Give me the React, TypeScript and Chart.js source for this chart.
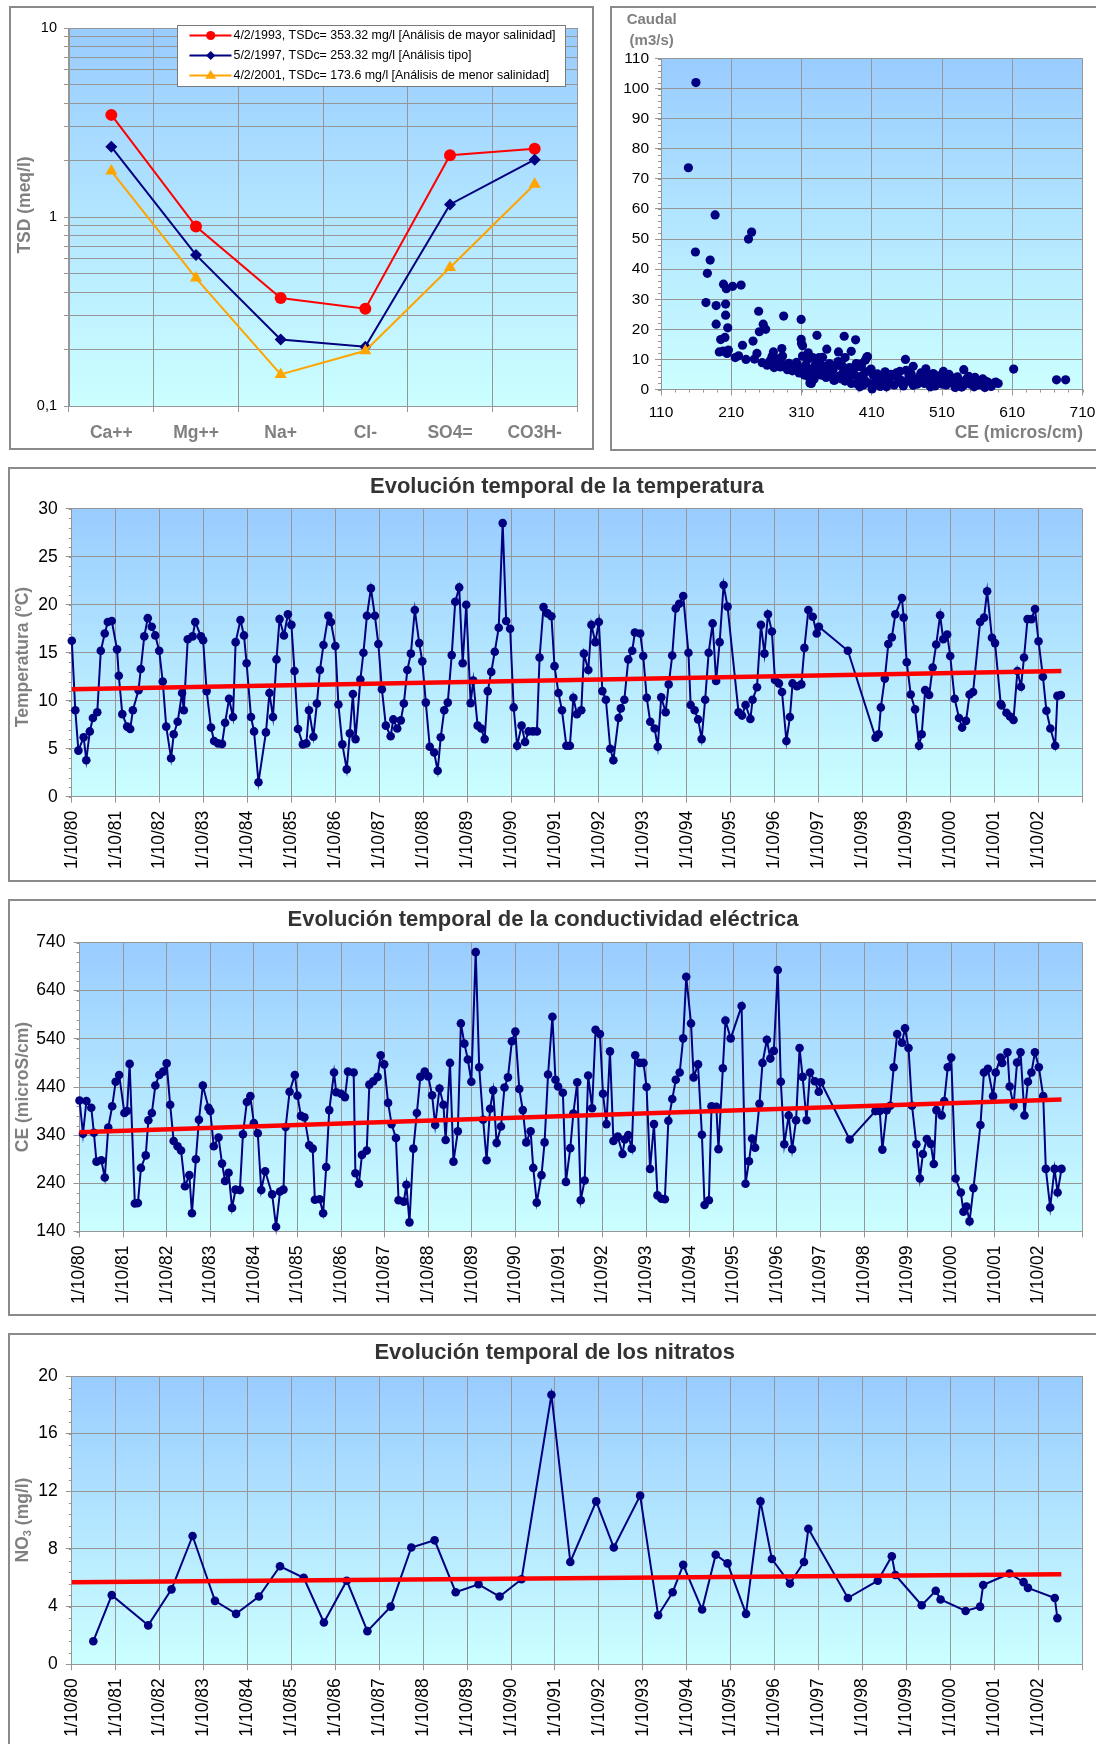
import React, { useEffect, useRef } from 'react';
import { Chart, registerables } from 'chart.js';

Chart.register(...registerables);

const FAMILY = '"Liberation Sans", Arial, Helvetica, sans-serif';
const GRID = '#969696';
const FRAME = '#8a8a8a';
const NAVY = '#000080';
const RED = '#FF0000';
const ORANGE = '#FFA500';
const AXIS_TITLE = '#808080';
const TITLE = '#333333';

/* ---------------- Panel 1: ionic composition (log) ---------------- */
const ions = ['Ca++', 'Mg++', 'Na+', 'Cl-', 'SO4=', 'CO3H-'];
const tsd1993 = [3.47, 0.89, 0.373, 0.327, 2.12, 2.3];
const tsd1997 = [2.35, 0.63, 0.225, 0.206, 1.165, 2.01];
const tsd2001 = [1.75, 0.475, 0.147, 0.196, 0.54, 1.49];
const legendTexts = [
  '4/2/1993, TSDc= 353.32 mg/l [Análisis de mayor salinidad]',
  '5/2/1997, TSDc= 253.32 mg/l [Análisis tipo]',
  '4/2/2001, TSDc= 173.6 mg/l [Análisis de menor salinidad]',
];
const logTicks = [0.1, 0.2, 0.3, 0.4, 0.5, 0.6, 0.7, 0.8, 0.9, 1, 2, 3, 4, 5, 6, 7, 8, 9, 10];

/* ---------------- Panel 2: Caudal vs CE ---------------- */
const caudalVsCe: [number, number][] = [
  [159.7, 102], [149, 73.7], [187, 58], [239, 52.3], [234.5, 50], [159, 45.7], [180, 43], [176, 38.6],
  [199, 35], [203, 33.5], [212, 34.3], [224, 34.7], [174, 28.9], [188.5, 27.9], [202, 28.4], [202, 24.7],
  [249, 26], [284.6, 24.4], [309.5, 23.3], [188.5, 21.7], [205, 20.5], [255.5, 21.7], [259, 20], [250, 19.2],
  [332, 18], [370.8, 17.7], [387, 16.5], [309.5, 16.7], [311.5, 14.5], [310, 15.3], [195, 16.6], [201, 17.3],
  [241, 16.1], [226, 14.7], [193, 12.5], [198.5, 12.8], [206, 13.1], [204, 12], [215.7, 10.6], [220.5, 11.2],
  [231, 10], [243, 10.1], [246.6, 12], [270, 12.5], [282, 13.6], [283, 11.1], [346, 13.4], [362.6, 12.5],
  [380.8, 12.7], [372, 10.6], [404, 10.9], [319.6, 12.2], [326, 10.6], [335, 10.6], [340, 10.7], [311.4, 11.1],
  [254, 8.9], [261, 8.1], [271, 7.3], [280, 7.5], [290, 6.6], [297, 6.2], [306.6, 5.5], [314, 4.8],
  [321, 4], [324, 2], [330.6, 5.9], [338, 4.8], [345, 4], [349.7, 6.4], [357, 3.1], [361.7, 4.2],
  [369, 5.5], [376, 3.7], [383, 4.8], [388, 2], [393.7, 4], [400, 3.1], [410.5, 0.2], [402, 5.9],
  [395, 7.5], [388, 8.6], [378.4, 7.3], [366.5, 7.8], [359, 8.1], [349.7, 8.6], [340, 7.8], [326, 7],
  [316, 8.1], [306.6, 7.3], [297, 8.1], [265, 9.5], [275, 9], [285, 8.3], [300, 7], [310, 6.5],
  [318, 5.8], [328, 3.5], [335, 6.8], [342, 5.5], [353, 5], [365, 4.5], [372, 2.8], [380, 6],
  [322, 2.2], [356, 3.1], [393, 0.9], [381, 2], [374, 5.3], [351, 8], [368, 7.9], [396, 8.6],
  [401, 9.8], [409, 6.8], [327, 5.3],
  [403, 10.8], [458, 10], [469, 7.7], [541, 6.6], [612, 6.8], [673, 3.2], [686, 3.2], [397.6, 4.7],
  [408, 6.4], [420, 3.1], [429, 5.9], [431, 0.9], [440, 4.7], [449.5, 2.5], [459, 6.4], [469, 1.4],
  [478, 4.2], [487, 6.9], [493.6, 0.9], [497.5, 5.3], [507, 3.6], [514, 4.7], [519, 3.1], [528.7, 0.7],
  [536, 2.2], [540.6, 1.4], [548, 4.4], [555.7, 0.9], [560, 3.1], [571, 2.9], [571, 0.7], [584, 2.1],
  [586.5, 2.5], [415, 4.5], [425, 2], [435, 3.5], [445, 5.5], [452, 3], [463, 4.5], [472, 2.8],
  [483, 3.5], [490, 5], [502, 2.5], [510, 1.8], [523, 4], [530, 3], [545, 3.5], [552, 2.8], [565, 2], [578, 1.5],
  [415, 2.5], [418, 5.2], [422, 1], [427, 4], [433, 2.2], [437, 5], [442, 1.5], [447, 3.8],
  [450, 6], [455, 1.2], [461, 2.8], [466, 5.2], [470, 3.5], [475, 1.8], [480, 5.5], [485, 2],
  [488, 4], [495, 3], [500, 1.2], [504, 4.5], [509, 2.8], [512, 6], [516, 1.5], [520, 5],
  [525, 2.2], [532, 4.2], [538, 0.8], [543, 3], [550, 1.8], [557, 4], [562, 1.5], [568, 3.5],
  [575, 2.5], [580, 1], [590, 2], [330, 8.5], [336, 9.5], [343, 7], [355, 6.5], [362, 9.3],
  [367, 3.5], [385, 6.8], [390, 4.3], [405, 2.2], [412, 4.8], [398, 1.5], [318, 9.8], [303, 9],
  [292, 8.7], [270, 9.8], [268, 11], [278, 10.3],
];
const scatterXTicks = [110, 210, 310, 410, 510, 610, 710];
const scatterYTicks = [0, 10, 20, 30, 40, 50, 60, 70, 80, 90, 100, 110];

/* ---------------- Time axis (years since 1/10/80) ---------------- */
const yearTickPositions = [0, 1, 2, 3, 4, 5, 6, 7, 8, 9, 10, 11, 12, 13, 14, 15, 16, 17, 18, 19, 20, 21, 22, 23];
const yearTickLabels = [
  '1/10/80', '1/10/81', '1/10/82', '1/10/83', '1/10/84', '1/10/85', '1/10/86', '1/10/87',
  '1/10/88', '1/10/89', '1/10/90', '1/10/91', '1/10/92', '1/10/93', '1/10/94', '1/10/95',
  '1/10/96', '1/10/97', '1/10/98', '1/10/99', '1/10/00', '1/10/01', '1/10/02', '',
];

/* ---------------- Temperature ---------------- */
const temperatureSeries: [number, number][] = [
  [0.00, 16.25], [0.08, 9.0], [0.15, 4.8], [0.27, 6.2], [0.33, 3.8], [0.41, 6.8], [0.48, 8.2], [0.58, 8.8],
  [0.66, 15.2], [0.75, 17.0], [0.82, 18.2], [0.91, 18.3], [1.03, 15.35], [1.07, 12.6], [1.15, 8.6], [1.26, 7.3],
  [1.33, 7.05], [1.39, 9.0], [1.52, 11.1], [1.57, 13.3], [1.65, 16.7], [1.73, 18.6], [1.82, 17.7], [1.90, 16.8],
  [1.99, 15.2], [2.07, 12.0], [2.15, 7.3], [2.26, 4.0], [2.32, 6.5], [2.41, 7.8], [2.51, 10.8], [2.55, 9.0],
  [2.64, 16.4], [2.75, 16.7], [2.81, 18.2], [2.94, 16.7], [2.99, 16.3], [3.07, 11.0], [3.17, 7.2], [3.24, 5.8],
  [3.33, 5.55], [3.42, 5.5], [3.49, 7.7], [3.58, 10.2], [3.67, 8.3], [3.73, 16.1], [3.84, 18.4], [3.92, 16.8],
  [3.98, 13.9], [4.08, 8.3], [4.15, 6.8], [4.25, 1.5], [4.42, 6.7], [4.50, 10.8], [4.58, 8.3], [4.66, 14.3],
  [4.73, 18.5], [4.83, 16.8], [4.92, 19.0], [5.00, 17.9], [5.07, 13.1], [5.15, 7.05], [5.26, 5.45], [5.34, 5.55],
  [5.40, 9.0], [5.50, 6.25], [5.58, 9.7], [5.65, 13.2], [5.73, 15.8], [5.84, 18.85], [5.90, 18.2], [6.00, 15.7],
  [6.07, 9.6], [6.16, 5.45], [6.26, 2.85], [6.33, 6.6], [6.40, 10.7], [6.46, 6.0], [6.57, 12.2], [6.64, 15.0],
  [6.72, 18.85], [6.81, 21.7], [6.90, 18.85], [6.98, 15.9], [7.06, 11.2], [7.15, 7.4], [7.26, 6.3], [7.32, 8.05],
  [7.41, 7.1], [7.49, 7.95], [7.56, 9.7], [7.64, 13.2], [7.72, 14.9], [7.81, 19.45], [7.91, 16.0], [7.98, 14.1],
  [8.06, 9.8], [8.15, 5.2], [8.25, 4.6], [8.33, 2.7], [8.40, 6.2], [8.48, 9.0], [8.56, 9.8], [8.65, 14.75],
  [8.73, 20.3], [8.82, 21.8], [8.90, 13.9], [8.98, 20.0], [9.08, 9.75], [9.14, 12.1], [9.24, 7.4], [9.32, 7.1],
  [9.40, 6.0], [9.47, 11.0], [9.55, 13.0], [9.63, 15.1], [9.72, 17.6], [9.81, 28.5], [9.89, 18.3], [9.98, 17.5],
  [10.06, 9.3], [10.14, 5.3], [10.24, 7.4], [10.32, 5.7], [10.40, 6.8], [10.50, 6.8], [10.59, 6.8], [10.65, 14.5],
  [10.74, 19.75], [10.83, 19.1], [10.92, 18.8], [10.99, 13.6], [11.08, 10.8], [11.16, 9.0], [11.26, 5.3], [11.34, 5.3],
  [11.42, 10.3], [11.50, 8.6], [11.60, 9.0], [11.66, 14.9], [11.76, 13.2], [11.83, 17.9], [11.92, 16.1], [12.00, 18.2],
  [12.08, 11.0], [12.16, 10.1], [12.26, 5.0], [12.33, 3.8], [12.45, 8.2], [12.50, 9.2], [12.58, 10.1], [12.67, 14.3],
  [12.76, 15.2], [12.82, 17.1], [12.94, 17.0], [13.01, 14.65], [13.09, 10.3], [13.17, 7.8], [13.27, 7.1], [13.34, 5.2],
  [13.42, 10.35], [13.52, 8.8], [13.59, 11.7], [13.67, 14.7], [13.75, 19.6], [13.83, 20.1], [13.92, 20.9], [14.04, 15.0],
  [14.09, 9.55], [14.18, 9.0], [14.26, 8.05], [14.34, 6.0], [14.42, 10.1], [14.50, 15.0], [14.59, 18.05], [14.67, 12.05],
  [14.75, 16.1], [14.84, 22.05], [14.93, 19.8], [15.18, 8.8], [15.26, 8.45], [15.34, 9.55], [15.45, 8.1], [15.50, 10.1],
  [15.60, 11.4], [15.69, 17.9], [15.77, 14.9], [15.85, 19.0], [15.94, 17.2], [16.01, 12.15], [16.10, 11.8], [16.17, 10.9],
  [16.27, 5.8], [16.35, 8.3], [16.41, 11.8], [16.51, 11.5], [16.61, 11.7], [16.68, 15.5], [16.77, 19.45], [16.87, 18.75],
  [16.96, 17.0], [17.01, 17.7], [17.67, 15.2], [18.30, 6.15], [18.37, 6.5], [18.42, 9.3], [18.51, 12.3], [18.59, 15.9],
  [18.67, 16.6], [18.75, 19.0], [18.90, 20.7], [18.94, 18.65], [19.01, 14.0], [19.10, 10.65], [19.20, 9.1], [19.29, 5.3],
  [19.35, 6.5], [19.43, 11.1], [19.52, 10.6], [19.60, 13.45], [19.68, 15.85], [19.77, 18.9], [19.84, 16.4], [19.93, 16.9],
  [20.00, 14.65], [20.10, 10.2], [20.20, 8.2], [20.27, 7.2], [20.36, 7.9], [20.44, 10.65], [20.52, 10.9], [20.68, 18.2],
  [20.77, 18.65], [20.84, 21.4], [20.95, 16.55], [21.02, 16.0], [21.15, 9.65], [21.17, 9.5], [21.28, 8.75], [21.36, 8.35],
  [21.44, 8.0], [21.53, 13.1], [21.61, 11.45], [21.68, 14.5], [21.76, 18.5], [21.85, 18.5], [21.93, 19.55], [22.01, 16.2],
  [22.11, 12.5], [22.19, 8.95], [22.28, 7.1], [22.39, 5.3], [22.44, 10.5], [22.52, 10.6],
];
const temperatureTrend: [number, number][] = [[0, 11.2], [22.53, 13.1]];
const temperatureTicks = [0, 5, 10, 15, 20, 25, 30];

/* ---------------- Conductividad ---------------- */
const ceSeries: [number, number][] = [
  [0.00, 412], [0.08, 343], [0.16, 411], [0.27, 397], [0.33, 345], [0.39, 285], [0.50, 288], [0.58, 252],
  [0.66, 356], [0.75, 400], [0.83, 451], [0.91, 465], [1.03, 386], [1.09, 390], [1.15, 488], [1.27, 198],
  [1.34, 199], [1.41, 272], [1.52, 298], [1.58, 371], [1.66, 386], [1.74, 443], [1.83, 465], [1.92, 472],
  [2.00, 489], [2.08, 403], [2.16, 328], [2.25, 317], [2.33, 308], [2.42, 234], [2.52, 257], [2.58, 178],
  [2.67, 290], [2.74, 372], [2.83, 443], [2.96, 397], [3.00, 390], [3.08, 317], [3.19, 335], [3.27, 281],
  [3.34, 245], [3.42, 262], [3.50, 189], [3.58, 227], [3.68, 226], [3.75, 342], [3.84, 409], [3.92, 421],
  [4.00, 365], [4.09, 344], [4.17, 226], [4.26, 265], [4.42, 217], [4.51, 150], [4.60, 223], [4.68, 227],
  [4.73, 357], [4.82, 430], [4.94, 465], [5.00, 422], [5.08, 380], [5.16, 377], [5.27, 319], [5.35, 312],
  [5.40, 206], [5.51, 207], [5.59, 178], [5.66, 274], [5.73, 392], [5.84, 470], [5.89, 429], [6.00, 426],
  [6.09, 419], [6.16, 472], [6.29, 470], [6.33, 261], [6.41, 239], [6.48, 299], [6.59, 308], [6.65, 445],
  [6.74, 452], [6.84, 461], [6.91, 506], [6.99, 487], [7.08, 407], [7.16, 363], [7.26, 334], [7.32, 205],
  [7.44, 202], [7.50, 237], [7.57, 159], [7.66, 312], [7.74, 386], [7.82, 461], [7.92, 472], [8.00, 462],
  [8.09, 423], [8.16, 361], [8.26, 437], [8.35, 403], [8.40, 330], [8.50, 490], [8.58, 285], [8.68, 348],
  [8.75, 572], [8.83, 530], [8.91, 497], [8.99, 451], [9.09, 720], [9.17, 481], [9.26, 372], [9.34, 288],
  [9.42, 395], [9.49, 433], [9.57, 324], [9.67, 358], [9.75, 439], [9.83, 460], [9.92, 535], [10.00, 555],
  [10.09, 436], [10.17, 392], [10.25, 325], [10.35, 348], [10.41, 272], [10.49, 200], [10.60, 257], [10.67, 325],
  [10.75, 466], [10.85, 586], [10.92, 455], [10.98, 441], [11.09, 428], [11.16, 243], [11.26, 313], [11.33, 385],
  [11.42, 450], [11.50, 205], [11.59, 246], [11.67, 464], [11.76, 396], [11.84, 559], [11.94, 550], [12.01, 426],
  [12.09, 363], [12.17, 514], [12.25, 328], [12.35, 337], [12.46, 301], [12.51, 331], [12.59, 340], [12.67, 312],
  [12.75, 506], [12.85, 490], [12.94, 490], [13.01, 440], [13.09, 270], [13.18, 363], [13.26, 215], [13.35, 208],
  [13.43, 207], [13.51, 370], [13.60, 415], [13.68, 455], [13.77, 470], [13.85, 541], [13.92, 669], [14.03, 572],
  [14.09, 460], [14.19, 487], [14.28, 341], [14.34, 195], [14.44, 205], [14.50, 400], [14.61, 399], [14.66, 311],
  [14.76, 479], [14.82, 578], [14.94, 541], [15.19, 608], [15.28, 239], [15.36, 286], [15.43, 333], [15.50, 314],
  [15.60, 405], [15.67, 490], [15.77, 538], [15.85, 499], [15.93, 515], [16.02, 683], [16.09, 451], [16.17, 321],
  [16.27, 381], [16.35, 311], [16.44, 371], [16.52, 521], [16.59, 461], [16.68, 371], [16.76, 470], [16.87, 452],
  [16.96, 430], [17.01, 450], [17.67, 331], [18.26, 390], [18.36, 390], [18.42, 310], [18.52, 392], [18.60, 401],
  [18.68, 481], [18.76, 550], [18.87, 532], [18.94, 562], [19.02, 521], [19.10, 401], [19.20, 321], [19.28, 250],
  [19.35, 301], [19.44, 332], [19.53, 322], [19.60, 280], [19.66, 392], [19.78, 381], [19.84, 411], [19.92, 481],
  [20.00, 501], [20.10, 250], [20.22, 221], [20.28, 181], [20.35, 192], [20.42, 161], [20.51, 230], [20.67, 361],
  [20.75, 470], [20.84, 478], [20.96, 421], [21.02, 470], [21.13, 501], [21.17, 490], [21.29, 512], [21.34, 441],
  [21.43, 401], [21.51, 491], [21.59, 512], [21.68, 381], [21.76, 451], [21.84, 470], [21.92, 512], [22.01, 481],
  [22.11, 421], [22.17, 270], [22.27, 190], [22.37, 270], [22.44, 221], [22.53, 270],
];
const ceTrend: [number, number][] = [[0, 346], [22.53, 414]];
const ceTicks = [140, 240, 340, 440, 540, 640, 740];

/* ---------------- Nitratos ---------------- */
const nitrateSeries: [number, number][] = [
  [0.49, 1.6], [0.91, 4.8], [1.74, 2.7], [2.27, 5.2], [2.75, 8.9], [3.26, 4.4], [3.74, 3.5], [4.26, 4.7],
  [4.74, 6.8], [5.28, 6.0], [5.74, 2.9], [6.26, 5.8], [6.73, 2.3], [7.26, 4.0], [7.73, 8.1], [8.26, 8.6],
  [8.74, 5.0], [9.26, 5.55], [9.74, 4.7], [10.24, 5.9], [10.92, 18.7], [11.35, 7.1], [11.94, 11.3], [12.34, 8.1],
  [12.94, 11.7], [13.35, 3.4], [13.68, 5.0], [13.92, 6.9], [14.35, 3.8], [14.66, 7.6], [14.93, 7.0], [15.35, 3.5],
  [15.68, 11.3], [15.94, 7.3], [16.35, 5.6], [16.67, 7.1], [16.77, 9.4], [17.67, 4.6], [18.35, 5.8], [18.67, 7.5],
  [18.75, 6.2], [19.35, 4.1], [19.67, 5.1], [19.78, 4.5], [20.35, 3.7], [20.68, 4.0], [20.75, 5.5], [21.35, 6.3],
  [21.67, 5.7], [21.77, 5.3], [22.38, 4.6], [22.44, 3.2],
];
const nitrateTrend: [number, number][] = [[0, 5.7], [22.53, 6.25]];
const nitrateTicks = [0, 4, 8, 12, 16, 20];

/* ---------------- helpers ---------------- */
type Part = { text: string; font: string; dy?: number };
type Txt = { text?: string; parts?: Part[]; x: number; y: number; font?: string; color: string; align?: CanvasTextAlign; rot?: boolean };
type Minor = { axis: string; step: number; len: number };
type DecorCfg = { border: [number, number, number, number]; texts: Txt[]; minor?: Minor[]; legend?: boolean };

const f = (size: number, bold = false) => `${bold ? 'bold ' : ''}${size}px ${FAMILY}`;

function drawText(ctx: CanvasRenderingContext2D, t: Txt) {
  ctx.save();
  ctx.fillStyle = t.color;
  ctx.textBaseline = 'middle';
  ctx.translate(t.x, t.y);
  if (t.rot) ctx.rotate(-Math.PI / 2);
  if (t.parts) {
    let total = 0;
    for (const p of t.parts) { ctx.font = p.font; total += ctx.measureText(p.text).width; }
    let x = -total / 2;
    ctx.textAlign = 'left';
    for (const p of t.parts) {
      ctx.font = p.font;
      ctx.fillText(p.text, x, p.dy ?? 0);
      x += ctx.measureText(p.text).width;
    }
  } else {
    ctx.font = t.font as string;
    ctx.textAlign = t.align ?? 'center';
    ctx.fillText(t.text as string, 0, 0);
  }
  ctx.restore();
}

function drawMarker(ctx: CanvasRenderingContext2D, style: string, x: number, y: number, r: number, color: string) {
  ctx.fillStyle = color;
  ctx.beginPath();
  if (style === 'circle') {
    ctx.arc(x, y, r, 0, Math.PI * 2);
  } else if (style === 'rectRot') {
    ctx.moveTo(x, y - r); ctx.lineTo(x + r, y); ctx.lineTo(x, y + r); ctx.lineTo(x - r, y); ctx.closePath();
  } else {
    const h = r * 1.6;
    ctx.moveTo(x, y - h * 0.62); ctx.lineTo(x + r, y + h * 0.38); ctx.lineTo(x - r, y + h * 0.38); ctx.closePath();
  }
  ctx.fill();
}

function drawLegend(ctx: CanvasRenderingContext2D) {
  ctx.save();
  ctx.fillStyle = '#ffffff';
  ctx.fillRect(168.5, 19.5, 388, 61);
  ctx.strokeStyle = '#7a7a7a';
  ctx.lineWidth = 1;
  ctx.strokeRect(168.5, 19.5, 388, 61);
  const ys = [29.5, 49.5, 69.5];
  const colors = [RED, NAVY, ORANGE];
  const styles = ['circle', 'rectRot', 'triangle'];
  const radii = [4.6, 4.6, 5.5];
  legendTexts.forEach((txt, i) => {
    ctx.strokeStyle = colors[i];
    ctx.lineWidth = 2;
    ctx.beginPath(); ctx.moveTo(180.5, ys[i]); ctx.lineTo(222.5, ys[i]); ctx.stroke();
    drawMarker(ctx, styles[i], 201.7, ys[i], radii[i], colors[i]);
    ctx.fillStyle = '#000';
    ctx.font = f(12.4);
    ctx.textAlign = 'left';
    ctx.textBaseline = 'middle';
    ctx.fillText(txt, 224.5, ys[i] + 0.5);
  });
  ctx.restore();
}

function makeDecor(cfg: DecorCfg) {
  return {
    id: 'decor',
    beforeDraw(chart: any) {
      const ctx: CanvasRenderingContext2D = chart.ctx;
      const a = chart.chartArea;
      ctx.save();
      const g = ctx.createLinearGradient(0, a.top, 0, a.bottom);
      g.addColorStop(0, '#99CCFF');
      g.addColorStop(1, '#CCFFFF');
      ctx.fillStyle = g;
      ctx.fillRect(a.left, a.top, a.right - a.left, a.bottom - a.top);
      ctx.strokeStyle = FRAME;
      ctx.lineWidth = 2;
      const [bx, by, bw, bh] = cfg.border;
      ctx.strokeRect(bx, by, bw, bh);
      ctx.restore();
      for (const t of cfg.texts) drawText(ctx, t);
      ctx.save();
      ctx.strokeStyle = GRID;
      ctx.lineWidth = 1;
      for (const m of cfg.minor ?? []) {
        const sc = chart.scales[m.axis];
        ctx.beginPath();
        for (let v = sc.min; v <= sc.max + 1e-9; v += m.step) {
          const p = Math.round(sc.getPixelForValue(v)) + 0.5;
          if (m.axis === 'y') { ctx.moveTo(a.left - m.len, p); ctx.lineTo(a.left, p); }
          else { ctx.moveTo(p, a.bottom); ctx.lineTo(p, a.bottom + m.len); }
        }
        ctx.stroke();
      }
      ctx.restore();
    },
    afterDraw(chart: any) {
      if (cfg.legend) drawLegend(chart.ctx);
    },
  };
}

const fixedTicks = (vals: number[]) => (s: any) => { s.ticks = vals.map((v) => ({ value: v })); };
const noPad = (s: any) => { s.paddingLeft = 0; s.paddingRight = 0; s.paddingTop = 0; s.paddingBottom = 0; };

function valueAxis(ticks: number[], width: number, fontSize = 17.5) {
  return {
    type: 'linear',
    min: ticks[0],
    max: ticks[ticks.length - 1],
    afterBuildTicks: fixedTicks(ticks),
    afterFit: (s: any) => { s.width = width; noPad(s); },
    ticks: { color: '#000', font: { family: FAMILY, size: fontSize }, padding: 8 },
    grid: { color: GRID, lineWidth: 1, tickLength: 6, tickColor: GRID },
    border: { color: GRID, width: 1 },
  };
}

function timeAxis(height: number) {
  return {
    type: 'linear',
    min: 0,
    max: 23,
    afterBuildTicks: fixedTicks(yearTickPositions),
    afterFit: (s: any) => { s.height = height; noPad(s); },
    ticks: {
      autoSkip: false, minRotation: 90, maxRotation: 90, padding: 8, color: '#000',
      font: { family: FAMILY, size: 17.5 },
      callback: (_v: any, i: number) => yearTickLabels[i],
    },
    grid: { color: GRID, lineWidth: 1, tickLength: 6, tickColor: GRID },
    border: { color: GRID, width: 1 },
  };
}

const toXY = (arr: [number, number][]) => arr.map(([x, y]) => ({ x, y }));

function timeSeriesConfig(o: {
  series: [number, number][]; trend: [number, number][]; ticks: number[]; yWidth: number; xHeight: number;
  top: number; minor: number; cfg: DecorCfg;
}) {
  return {
    type: 'scatter',
    data: {
      datasets: [
        { data: toXY(o.trend), showLine: true, borderColor: RED, borderWidth: 4.5, pointRadius: 0, order: 0, clip: false },
        {
          data: toXY(o.series), showLine: true, borderColor: NAVY, borderWidth: 2, pointRadius: 4.3,
          pointBackgroundColor: NAVY, pointBorderColor: NAVY, pointBorderWidth: 0, order: 1, clip: false,
        },
      ],
    },
    options: {
      animation: false, responsive: false, devicePixelRatio: 1,
      layout: { padding: { left: 0, right: 14, top: o.top, bottom: 0 } },
      plugins: { legend: { display: false }, tooltip: { enabled: false }, title: { display: false } },
      scales: { x: timeAxis(o.xHeight), y: valueAxis(o.ticks, o.yWidth) },
    },
    plugins: [makeDecor({ ...o.cfg, minor: [{ axis: 'y', step: o.minor, len: 3 }] })],
  };
}

/* ---------------- chart configs ---------------- */
function ionConfig() {
  const ds = (data: number[], color: string, style: string, r: number, order: number) => ({
    data, borderColor: color, backgroundColor: color, borderWidth: 2, pointStyle: style, pointRadius: r,
    pointBackgroundColor: color, pointBorderColor: color, pointBorderWidth: 0, tension: 0, order, clip: false,
  });
  return {
    type: 'line',
    data: {
      labels: ions,
      datasets: [
        ds(tsd1993, RED, 'circle', 6, 2),
        ds(tsd1997, NAVY, 'rectRot', 6, 1),
        ds(tsd2001, ORANGE, 'triangle', 7, 0),
      ],
    },
    options: {
      animation: false, responsive: false, devicePixelRatio: 1,
      layout: { padding: { left: 0, right: 17, top: 22, bottom: 0 } },
      plugins: { legend: { display: false }, tooltip: { enabled: false } },
      scales: {
        x: {
          type: 'category', offset: true,
          afterFit: (s: any) => { s.height = 44; noPad(s); },
          ticks: { color: AXIS_TITLE, font: { family: FAMILY, size: 17.5, weight: 'bold' }, padding: 11, autoSkip: false, maxRotation: 0 },
          grid: { offset: true, color: GRID, lineWidth: 1, tickLength: 6, tickColor: GRID },
          border: { color: GRID, width: 1 },
        },
        y: {
          type: 'logarithmic', min: 0.1, max: 10,
          afterBuildTicks: fixedTicks(logTicks),
          afterFit: (s: any) => { s.width = 60; noPad(s); },
          ticks: {
            autoSkip: false, color: '#000', font: { family: FAMILY, size: 14.5 }, padding: 7,
            callback: (v: any) => (v === 10 ? '10' : v === 1 ? '1' : Math.abs(v - 0.1) < 1e-9 ? '0,1' : ''),
          },
          grid: { color: GRID, lineWidth: 1, tickLength: 5, tickColor: GRID },
          border: { color: GRID, width: 1 },
        },
      },
    },
    plugins: [makeDecor({
      border: [1, 1, 583, 442],
      texts: [{ text: 'TSD (meq/l)', x: 15.7, y: 199, font: f(17.5, true), color: AXIS_TITLE, rot: true }],
      legend: true,
    })],
  };
}

function scatterConfig() {
  return {
    type: 'scatter',
    data: {
      datasets: [{
        data: toXY(caudalVsCe), pointRadius: 4.6, pointBackgroundColor: NAVY, pointBorderColor: NAVY,
        pointBorderWidth: 0, clip: false,
      }],
    },
    options: {
      animation: false, responsive: false, devicePixelRatio: 1,
      layout: { padding: { left: 0, right: 13.5, top: 52.5, bottom: 0 } },
      plugins: { legend: { display: false }, tooltip: { enabled: false } },
      scales: {
        x: {
          type: 'linear', min: 110, max: 710,
          afterBuildTicks: fixedTicks(scatterXTicks),
          afterFit: (s: any) => { s.height = 61.5; noPad(s); },
          ticks: { color: '#000', font: { family: FAMILY, size: 15.5 }, padding: 8, maxRotation: 0, autoSkip: false },
          grid: { color: GRID, lineWidth: 1, tickLength: 6, tickColor: GRID },
          border: { color: GRID, width: 1 },
        },
        y: {
          type: 'linear', min: 0, max: 110,
          afterBuildTicks: fixedTicks(scatterYTicks),
          afterFit: (s: any) => { s.width = 51; noPad(s); },
          ticks: { color: '#000', font: { family: FAMILY, size: 15.5 }, padding: 6, autoSkip: false },
          grid: { color: GRID, lineWidth: 1, tickLength: 6, tickColor: GRID },
          border: { color: GRID, width: 1 },
        },
      },
    },
    plugins: [makeDecor({
      border: [1, 1, 492, 443],
      texts: [
        { text: 'Caudal', x: 41.7, y: 14, font: f(15, true), color: AXIS_TITLE },
        { text: '(m3/s)', x: 41.7, y: 34.7, font: f(15, true), color: AXIS_TITLE },
        { text: 'CE (micros/cm)', x: 473, y: 427, font: f(17.5, true), color: AXIS_TITLE, align: 'right' },
      ],
      minor: [{ axis: 'x', step: 20, len: 3 }, { axis: 'y', step: 2, len: 3 }],
    })],
  };
}

function temperatureConfig() {
  return timeSeriesConfig({
    series: temperatureSeries, trend: temperatureTrend, ticks: temperatureTicks,
    yWidth: 63.8, xHeight: 85.3, top: 41.7, minor: 1,
    cfg: {
      border: [1, 1, 1094, 413],
      texts: [
        { text: 'Evolución temporal de la temperatura', x: 558.8, y: 19.7, font: f(22, true), color: TITLE },
        { text: 'Temperatura (ºC)', x: 15, y: 190, font: f(17.5, true), color: AXIS_TITLE, rot: true },
      ],
    },
  });
}

function ceConfig() {
  return timeSeriesConfig({
    series: ceSeries, trend: ceTrend, ticks: ceTicks,
    yWidth: 71.5, xHeight: 84.5, top: 43.5, minor: 20,
    cfg: {
      border: [1, 1, 1094, 415],
      texts: [
        { text: 'Evolución temporal de la conductividad eléctrica', x: 535, y: 21, font: f(22, true), color: TITLE },
        { text: 'CE (microS/cm)', x: 15.3, y: 188, font: f(17.5, true), color: AXIS_TITLE, rot: true },
      ],
    },
  });
}

function nitrateConfig() {
  return timeSeriesConfig({
    series: nitrateSeries, trend: nitrateTrend, ticks: nitrateTicks,
    yWidth: 63.8, xHeight: 79.7, top: 43, minor: 0.8,
    cfg: {
      border: [1, 1, 1094, 420],
      texts: [
        { text: 'Evolución temporal de los nitratos', x: 546.7, y: 20, font: f(22, true), color: TITLE },
        {
          parts: [
            { text: 'NO', font: f(17.5, true) },
            { text: '3', font: f(11, true), dy: 5 },
            { text: ' (mg/l)', font: f(17.5, true) },
          ],
          x: 15, y: 187, color: AXIS_TITLE, rot: true,
        },
      ],
    },
  });
}

/* ---------------- components ---------------- */
function ChartBox(props: { left: number; top: number; width: number; height: number; make: () => any }) {
  const ref = useRef<HTMLCanvasElement | null>(null);
  useEffect(() => {
    const c = ref.current;
    if (!c) return;
    const chart = new Chart(c, props.make());
    return () => chart.destroy();
  }, []);
  return (
    <canvas
      ref={ref}
      width={props.width}
      height={props.height}
      style={{ position: 'absolute', left: props.left, top: props.top, width: props.width, height: props.height }}
    />
  );
}

export default function App() {
  return (
    <div style={{ position: 'absolute', left: 0, top: 0, width: 1096, height: 1744, overflow: 'hidden', background: '#fff' }}>
      <ChartBox left={9} top={6} width={585} height={444} make={ionConfig} />
      <ChartBox left={610} top={6} width={486} height={445} make={scatterConfig} />
      <ChartBox left={8} top={467} width={1088} height={415} make={temperatureConfig} />
      <ChartBox left={8} top={899} width={1088} height={417} make={ceConfig} />
      <ChartBox left={8} top={1333} width={1088} height={411} make={nitrateConfig} />
    </div>
  );
}
